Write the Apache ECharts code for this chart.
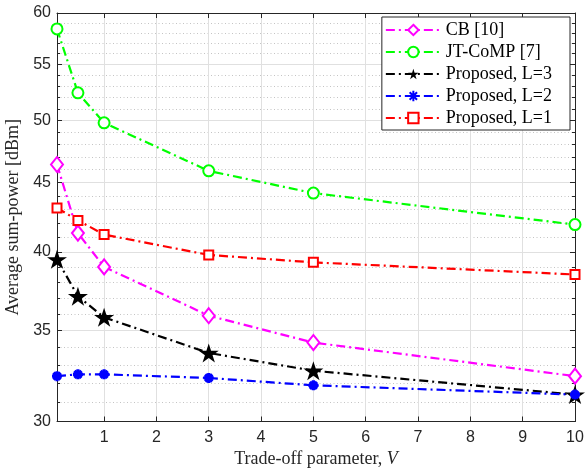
<!DOCTYPE html>
<html>
<head>
<meta charset="utf-8">
<script src="https://cdn.jsdelivr.net/npm/echarts@6/dist/echarts.min.js"></script>
<style>html,body{margin:0;padding:0;background:#fff;}#c{width:585px;height:471px;}</style>
</head>
<body>
<div id="c"></div>
<script>
// ---- data ----
var xValues = [0.1, 0.5, 1, 3, 5, 10];
var seriesNames = ['CB [10]', 'JT-CoMP [7]', 'Proposed, L=3', 'Proposed, L=2', 'Proposed, L=1'];
var cb     = [46.4, 41.3, 39.0, 35.9, 34.3, 32.4];
var jtcomp = [58.4, 52.4, 49.8, 45.9, 44.2, 41.9];
var propL3 = [39.5, 37.1, 35.8, 33.7, 32.7, 31.4];
var propL2 = [32.4, 32.5, 32.5, 32.3, 31.9, 31.4];
var propL1 = [43.1, 42.2, 41.2, 39.8, 39.3, 38.5];
var xTicks = [1, 2, 3, 4, 5, 6, 7, 8, 9, 10];
var yTicks = [30, 35, 40, 45, 50, 55, 60];
var yMinorTicks = [];
for (var v = 31; v < 60; v++) { if (v % 5 !== 0) yMinorTicks.push(v); }

function pairs(ys) { return xValues.map(function (x, i) { return [x, ys[i]]; }); }

var AX = '#262626';
var sans = 'Liberation Sans';
var serif = 'Liberation Serif';
var dashDot = [9, 4, 2, 4];
var starPath = 'path://M0,-100L22.45,-30.9L95.1,-30.9L36.3,11.8L58.8,80.9L0,38.2L-58.8,80.9L-36.3,11.8L-95.1,-30.9L-22.45,-30.9Z';
var asteriskPath = 'path://M0,-10L0,10M-10,0L10,0M-7.07,-7.07L7.07,7.07M-7.07,7.07L7.07,-7.07';

function mk(name, ys, color, symbol, size, filled, bw) {
  return {
    name: name, type: 'line', xAxisIndex: 0, yAxisIndex: 0,
    data: pairs(ys),
    symbol: symbol, symbolSize: size, showAllSymbol: true,
    lineStyle: { color: color, width: 2.2, type: dashDot },
    itemStyle: filled ? { color: color, borderColor: color, borderWidth: bw || 0 }
                      : { color: '#fff', borderColor: color, borderWidth: 2 },
    color: color,
    z: 5
  };
}

var logY = function (extra) {
  var base = { type: 'log', min: 30, max: 60, gridIndex: 0 };
  for (var k in extra) base[k] = extra[k];
  return base;
};

var chart = echarts.init(document.getElementById('c'), null, { renderer: 'canvas' });
chart.setOption({
  animation: false,
  backgroundColor: '#fff',
  grid: { left: 57, right: 10, top: 13, bottom: 49.5, containLabel: false, outerBoundsMode: 'none' },
  legend: {
    orient: 'vertical', right: 15, top: 17,
    backgroundColor: '#fff', borderColor: AX, borderWidth: 1,
    padding: [4, 18, 3, 3], itemGap: 4, itemWidth: 55, itemHeight: 13,
    textStyle: { fontFamily: serif, fontSize: 18, color: '#000' },
    data: seriesNames,
    z: 10
  },
  xAxis: [
    {
      type: 'value', min: 0.1, max: 10, position: 'bottom',
      name: 'Trade-off parameter, {i|V}', nameLocation: 'middle', nameGap: 27,
      nameTextStyle: { fontFamily: serif, fontSize: 18, color: AX,
        rich: { i: { fontFamily: serif, fontSize: 18, fontStyle: 'italic', color: AX } } },
      axisLine: { show: true, lineStyle: { color: AX, width: 1 } },
      axisTick: { show: true, inside: true, length: 5, customValues: xTicks, lineStyle: { color: AX } },
      axisLabel: { customValues: xTicks, fontFamily: sans, fontSize: 16, color: AX, margin: 8 },
      splitLine: { show: true, lineStyle: { color: '#e0e0e0', width: 1 } }
    },
    {
      type: 'value', min: 0.1, max: 10, position: 'top',
      axisLine: { show: true, onZero: false, lineStyle: { color: AX, width: 1 } },
      axisTick: { show: true, inside: true, length: 5, customValues: xTicks, lineStyle: { color: AX } },
      axisLabel: { show: false },
      splitLine: { show: false }
    }
  ],
  yAxis: [
    logY({
      position: 'left',
      name: 'Average sum-power [dBm]', nameLocation: 'middle', nameGap: 27, nameRotate: 90,
      nameTextStyle: { fontFamily: serif, fontSize: 18, color: AX },
      axisLine: { show: true, onZero: false, lineStyle: { color: AX, width: 1 } },
      axisTick: { show: true, inside: true, length: 5, customValues: yTicks, lineStyle: { color: AX } },
      axisLabel: { customValues: yTicks, fontFamily: sans, fontSize: 16, color: AX, margin: 6 },
      splitLine: { show: true, lineStyle: { color: '#e0e0e0', width: 1 } }
    }),
    logY({
      position: 'left',
      axisLine: { show: true, onZero: false, lineStyle: { color: 'rgba(0,0,0,0)', width: 1 } },
      axisTick: { show: true, inside: true, length: 3, customValues: yMinorTicks, lineStyle: { color: AX } },
      axisLabel: { show: false, customValues: yMinorTicks },
      splitLine: { show: true, lineStyle: { color: '#c4c4c4', width: 1, type: [1, 2.5] } }
    }),
    logY({
      position: 'right',
      axisLine: { show: true, onZero: false, lineStyle: { color: AX, width: 1 } },
      axisTick: { show: true, inside: true, length: 5, customValues: yTicks, lineStyle: { color: AX } },
      axisLabel: { show: false, customValues: yTicks },
      splitLine: { show: false }
    }),
    logY({
      position: 'right',
      axisLine: { show: true, onZero: false, lineStyle: { color: 'rgba(0,0,0,0)', width: 1 } },
      axisTick: { show: true, inside: true, length: 3, customValues: yMinorTicks, lineStyle: { color: AX } },
      axisLabel: { show: false, customValues: yMinorTicks },
      splitLine: { show: false }
    })
  ],
  series: [
    mk(seriesNames[0], cb, '#ff00ff', 'diamond', [12, 15], false),
    mk(seriesNames[1], jtcomp, '#00ff00', 'circle', 11, false),
    mk(seriesNames[2], propL3, '#000000', starPath, [20, 19], true),
    mk(seriesNames[3], propL2, '#0000ff', asteriskPath, 10, true, 3.2),
    mk(seriesNames[4], propL1, '#ff0000', 'rect', 9, false)
  ]
});
</script>
</body>
</html>
